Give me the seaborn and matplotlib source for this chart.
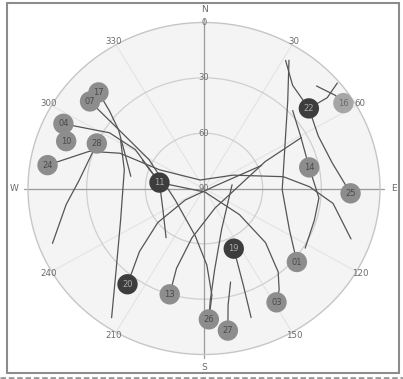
import numpy as np
import pandas as pd
import matplotlib
matplotlib.use("Agg")
import matplotlib.pyplot as plt
import seaborn as sns
from matplotlib.patches import Rectangle
from matplotlib.lines import Line2D

sns.set_style("white")
plt.rcParams["font.family"] = ["DejaVu Sans"]

# ---- satellites in view: PRN, azimuth (deg), elevation (deg), state ----
sat_prn = ["17", "07", "04", "10", "28", "24", "11", "22", "16",
           "14", "25", "19", "01", "03", "20", "13", "26", "27"]
sat_az = [314, 309, 296, 290, 294, 279, 278, 51, 57,
          78, 92, 155, 130, 149, 217, 197, 178, 171]
sat_el = [15, 15, 10, 15, 30, 9, 67, 21, 5,
          35, 15, 54, 28, 18, 25, 30, 19, 12]
sat_state = ["tracked", "tracked", "tracked", "tracked", "tracked", "tracked",
             "used", "used", "weak", "tracked", "tracked", "used", "tracked",
             "tracked", "used", "tracked", "tracked", "tracked"]

# ---- ground tracks (azimuth, elevation) ----
trk25_az = [31, 39, 51, 64, 78, 92]
trk25_el = [9, 18, 21, 25, 23, 15]
trk01_az = [32, 42, 58, 91, 117, 130]
trk01_el = [8, 26, 41, 50, 41, 28]
trk14_az = [47, 60, 78, 95, 107, 122]
trk14_el = [28, 33, 35, 31, 31, 29]
trk16_az = [46, 53, 57]
trk16_el = [10, 6, 5]
trk22_az = [50, 52, 51]
trk22_el = [1, 10, 21]
trk24_az = [279, 289, 294, 294, 337, 64, 81, 89, 97, 110]
trk24_el = [9, 28, 43, 65, 85, 73.5, 49, 36, 23.5, 10]
trk04_az = [296, 302, 301, 278, 165, 128, 133, 140, 145, 149]
trk04_el = [10, 33, 49, 67, 88, 67, 47, 31, 23, 18]
trk17_az = [314, 311, 306, 294, 280]
trk17_el = [15, 26, 36, 46, 52]
trk07_az = [309, 306, 299, 247, 190, 178, 176, 178]
trk07_el = [15, 37, 58, 74, 64, 48.5, 32, 19]
trk28_az = [294, 274, 263, 249]
trk28_el = [30, 26, 19, 7]
trk10_az = [301.5, 284, 248, 225.5, 214]
trk10_el = [40, 48, 44, 27, 5.5]
trk20_az = [217, 224, 232, 237, 76, 67]
trk20_el = [25, 42.5, 60, 78.5, 84, 58]
trk13_az = [197, 198, 193, 152, 84, 65, 61]
trk13_el = [30, 44.5, 62.5, 78, 71.5, 55.5, 33]
trk11_az = [296, 278, 241, 216]
trk11_el = [55, 67, 66, 57]
trk19_az = [155, 159, 161]
trk19_el = [54, 34, 16]
trk27_az = [165, 169, 171]
trk27_el = [37.5, 25.5, 12]
trk26_az = [82, 158, 173, 177, 178]
trk26_el = [75.5, 66, 45.5, 29, 19]

tracks = {
    "25": (trk25_az, trk25_el), "01": (trk01_az, trk01_el),
    "14": (trk14_az, trk14_el), "16": (trk16_az, trk16_el),
    "22": (trk22_az, trk22_el), "24": (trk24_az, trk24_el),
    "04": (trk04_az, trk04_el), "17": (trk17_az, trk17_el),
    "07": (trk07_az, trk07_el), "28": (trk28_az, trk28_el),
    "10": (trk10_az, trk10_el), "20": (trk20_az, trk20_el),
    "13": (trk13_az, trk13_el), "11": (trk11_az, trk11_el),
    "19": (trk19_az, trk19_el), "27": (trk27_az, trk27_el),
    "26": (trk26_az, trk26_el),
}

# ---- axis labels ----
ring_el = [0, 30, 60, 90]
ring_labels = ["0", "30", "60", "90"]
az_ticks = [30, 60, 120, 150, 210, 240, 300, 330]
az_labels = ["30", "60", "120", "150", "210", "240", "300", "330"]
card_az = [0, 90, 180, 270]
card_labels = ["N", "E", "S", "W"]

# ---- tidy frames ----
rows = []
for name, (az, el) in tracks.items():
    for i, (a, e) in enumerate(zip(az, el)):
        rows.append({"track": name, "step": i,
                     "theta": np.deg2rad(a), "zen": 90 - e})
trk_df = pd.DataFrame(rows)

sat_df = pd.DataFrame({"prn": sat_prn,
                       "theta": np.deg2rad(sat_az),
                       "zen": 90 - np.asarray(sat_el, dtype=float),
                       "state": sat_state})

fill = {"tracked": "#8d8d8d", "used": "#3d3d3d", "weak": "#a6a6a6"}
txt = {"tracked": "#4a4a4a", "used": "#a9a9a9", "weak": "#6a6a6a"}

# ---- figure ----
W, H = 403, 379
fig = plt.figure(figsize=(W / 100, H / 100), dpi=100)
fig.patch.set_facecolor("white")
ax = fig.add_axes([28 / W, 24.5 / H, 352 / W, 332 / H], projection="polar")
ax.set_aspect("auto")
ax.set_theta_zero_location("N")
ax.set_theta_direction(-1)
ax.set_facecolor("#f4f4f4")

sns.lineplot(data=trk_df, x="theta", y="zen", units="track", estimator=None,
             sort=False, color="#555555", lw=0.9, ax=ax, zorder=3)
sns.scatterplot(data=sat_df, x="theta", y="zen", hue="state", palette=fill,
                s=215, linewidth=0, legend=False, ax=ax, zorder=5)

ax.set_ylim(0, 90)
ax.set_xlabel("")
ax.set_ylabel("")
ax.set_thetagrids(np.arange(0, 360, 30), labels=[])
ax.set_rgrids([30, 60], labels=[])
ax.grid(axis="x", color="#e3e3e3", lw=0.8)
ax.grid(axis="y", color="#cfcfcf", lw=0.9)
ax.spines["polar"].set_color("#c6c6c6")
ax.spines["polar"].set_linewidth(1.0)
ax.tick_params(length=0)

# N-S and E-W axis lines, running slightly past the horizon ring
for a in card_az:
    ax.add_line(Line2D([np.deg2rad(a), np.deg2rad(a)], [0, 92],
                       color="#9a9a9a", lw=0.9, clip_on=False, zorder=2))

# PRN labels on the satellite markers
for p, t, z, s in zip(sat_df["prn"], sat_df["theta"], sat_df["zen"], sat_df["state"]):
    ax.text(t, z, p, ha="center", va="center", fontsize=6, color=txt[s], zorder=6)

# elevation ring labels along the north axis
for e, lab in zip(ring_el, ring_labels):
    ax.text(0, 90 - e, lab, ha="center", va="center", fontsize=6,
            color="#707070", zorder=4, clip_on=False)

# azimuth labels on the horizon ring
for a, lab in zip(az_ticks, az_labels):
    ax.text(np.deg2rad(a), 92, lab, ha="center", va="center", fontsize=6.2,
            color="#6a6a6a", clip_on=False, zorder=4)

# compass letters
for a, lab in zip(card_az, card_labels):
    ax.text(np.deg2rad(a), 97, lab, ha="center", va="center", fontsize=6.5,
            color="#6a6a6a", clip_on=False, zorder=4)

# panel border
fig.add_artist(Rectangle((7 / W, 6 / H), 392 / W, 370 / H, transform=fig.transFigure,
                         fill=False, edgecolor="#8c8c8c", lw=1.5))
fig.add_artist(Line2D([0, 1], [1.5 / H, 1.5 / H], transform=fig.transFigure,
                      color="#9a9a9a", lw=2, ls=(0, (2, 1))))

fig.savefig("out.png", dpi=100)
